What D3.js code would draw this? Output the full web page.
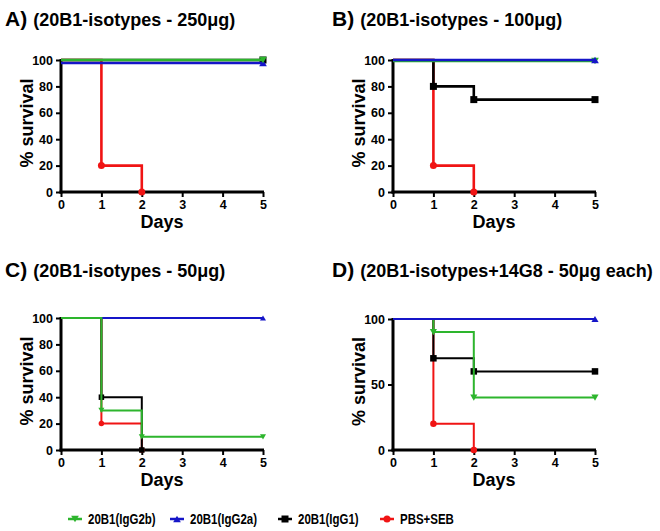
<!DOCTYPE html>
<html><head><meta charset="utf-8">
<script src="https://cdn.jsdelivr.net/npm/d3@7"></script>
<style>
html,body{margin:0;padding:0;background:#fff;}
svg{display:block;font-family:"Liberation Sans",Arial,sans-serif;font-weight:bold;}
</style></head>
<body>
<svg id="c" width="660" height="531"></svg>
<script>
// ---- data ----
const seriesNames = ["20B1(IgG2b)", "20B1(IgG2a)", "20B1(IgG1)", "PBS+SEB"];
const seriesColors = ["#2db52d", "#1515c8", "#000000", "#f01414"];
const seriesShapes = ["triDown", "triUp", "square", "circle"];
const panelLetters = ["A)", "B)", "C)", "D)"];
const panelTitles = ["(20B1-isotypes - 250\u03BCg)", "(20B1-isotypes - 100\u03BCg)", "(20B1-isotypes - 50\u03BCg)", "(20B1-isotypes+14G8 - 50\u03BCg each)"];
const xTicks = [0, 1, 2, 3, 4, 5];
const yTicksFine = [0, 20, 40, 60, 80, 100];
const yTicksCoarse = [0, 50, 100];

// [day, % survival] per series
const A_IgG2b = [[0,100],[5,100]];
const A_IgG2a = [[0,100],[5,100]];
const A_IgG1  = [[0,100],[5,100]];
const A_PBS   = [[0,100],[1,20],[2,0]];

const B_IgG2b = [[0,100],[5,100]];
const B_IgG2a = [[0,100],[5,100]];
const B_IgG1  = [[0,100],[1,80],[2,70],[5,70]];
const B_PBS   = [[0,100],[1,20],[2,0]];

const C_IgG2b = [[0,100],[1,30],[2,10],[5,10]];
const C_IgG2a = [[0,100],[5,100]];
const C_IgG1  = [[0,100],[1,40],[2,0]];
const C_PBS   = [[0,100],[1,20],[2,0]];

const D_IgG2b = [[0,100],[1,90],[2,40],[5,40]];
const D_IgG2a = [[0,100],[5,100]];
const D_IgG1  = [[0,100],[1,70],[2,60],[5,60]];
const D_PBS   = [[0,100],[1,20],[2,0]];

const panelData = [
  [A_IgG2b, A_IgG2a, A_IgG1, A_PBS],
  [B_IgG2b, B_IgG2a, B_IgG1, B_PBS],
  [C_IgG2b, C_IgG2a, C_IgG1, C_PBS],
  [D_IgG2b, D_IgG2a, D_IgG1, D_PBS]
];
const panelYTicks = [yTicksFine, yTicksFine, yTicksFine, yTicksCoarse];

// ---- layout (styles/positions) ----
const layout = [
  {x0:61,  x1:263, y0:192, y1:60,  tx:5,   ty:26,  lw:2.6, ms:7,   draw:[3,2,1,0], dy:[0,3,0,0]},
  {x0:393, x1:595, y0:192, y1:60,  tx:332, ty:26,  lw:2.6, ms:7,   draw:[3,2,0,1], dy:[1,0,0,0]},
  {x0:61,  x1:263, y0:450, y1:318, tx:5,   ty:277, lw:2.0, ms:5.5, draw:[3,2,1,0], dy:[0,0,0,0]},
  {x0:393, x1:595, y0:450, y1:319, tx:332, ty:277, lw:2.0, ms:6.5, draw:[3,2,0,1], dy:[0,0,0,0]}
];

const svg = d3.select("#c");

function marker(g, shape, cx, cy, s, color){
  if(shape==="circle"){
    g.append("circle").attr("cx",cx).attr("cy",cy).attr("r",s/2).attr("fill",color);
  } else if(shape==="square"){
    g.append("rect").attr("x",cx-s/2).attr("y",cy-s/2).attr("width",s).attr("height",s).attr("fill",color);
  } else {
    const h = s*0.95, w = s*1.1;
    const pts = shape==="triUp"
      ? [[cx-w/2,cy+h/2],[cx+w/2,cy+h/2],[cx,cy-h/2]]
      : [[cx-w/2,cy-h/2],[cx+w/2,cy-h/2],[cx,cy+h/2]];
    g.append("path").attr("d","M"+pts.map(p=>p.join(",")).join("L")+"Z").attr("fill",color);
  }
}

panelData.forEach((series, pi) => {
  const L = layout[pi];
  const x = d3.scaleLinear().domain([0,5]).range([L.x0, L.x1]);
  const y = d3.scaleLinear().domain([0,100]).range([L.y0, L.y1]);
  const g = svg.append("g");

  // title
  const t = g.append("text").attr("x", L.tx).attr("y", L.ty).attr("fill","#000");
  t.append("tspan").attr("font-size", 21).text(panelLetters[pi]);
  t.append("tspan").attr("font-size", 18).attr("dx", 6).text(panelTitles[pi]);

  // axes
  const xAxis = d3.axisBottom(x).tickValues(xTicks).tickFormat(d3.format("d")).tickSize(5).tickPadding(3).tickSizeOuter(0);
  const yAxis = d3.axisLeft(y).tickValues(panelYTicks[pi]).tickFormat(d3.format("d")).tickSize(5).tickPadding(3).tickSizeOuter(0);
  const gx = g.append("g").attr("transform", `translate(0,${L.y0})`).call(xAxis);
  const gy = g.append("g").attr("transform", `translate(${L.x0},0)`).call(yAxis);
  [gx, gy].forEach(a => {
    a.select(".domain").attr("stroke","#000").attr("stroke-width",3);
    a.selectAll(".tick line").attr("stroke","#000").attr("stroke-width",2);
    a.selectAll(".tick text").attr("font-size",12.5).attr("font-weight","bold")
      .attr("font-family","'Liberation Sans',Arial,sans-serif").attr("fill","#000");
  });
  gx.select(".domain").attr("d", `M${L.x0-1.5},0H${L.x1+1}`);
  gy.select(".domain").attr("d", `M0,${L.y0+1.5}V${L.y1-1}`);

  // axis labels
  g.append("text").attr("x",(L.x0+L.x1)/2).attr("y",L.y0+36).attr("text-anchor","middle")
    .attr("font-size",18).text("Days");
  g.append("text").attr("transform",`translate(${L.x0-34},${(L.y0+L.y1)/2-3}) rotate(-90)`)
    .attr("text-anchor","middle").attr("dy","0.35em").attr("font-size",18).text("% survival");

  // data
  const line = d3.line().x(d=>x(d[0])).y(d=>y(d[1])).curve(d3.curveStepAfter);
  L.draw.forEach(si => {
    const data = series[si];
    const sg = g.append("g").attr("transform", `translate(0,${L.dy[si]})`);
    sg.append("path").attr("d", line(data)).attr("fill","none")
      .attr("stroke", seriesColors[si]).attr("stroke-width", L.lw);
    data.filter(d => d[0] > 0).forEach(d => marker(sg, seriesShapes[si], x(d[0]), y(d[1]), L.ms, seriesColors[si]));
  });
});

// legend
const legendX = [75, 177, 285, 387];
const legendY = 519;
seriesNames.forEach((name, i) => {
  const lg = svg.append("g");
  lg.append("line").attr("x1",legendX[i]-7).attr("x2",legendX[i]+7).attr("y1",legendY).attr("y2",legendY)
    .attr("stroke",seriesColors[i]).attr("stroke-width",2.5);
  marker(lg, seriesShapes[i], legendX[i], legendY, 7, seriesColors[i]);
  lg.append("text").attr("transform",`translate(${legendX[i]+13},${legendY}) scale(0.82,1)`)
    .attr("dy","0.36em").attr("font-size",14).text(name);
});
</script>
</body></html>
